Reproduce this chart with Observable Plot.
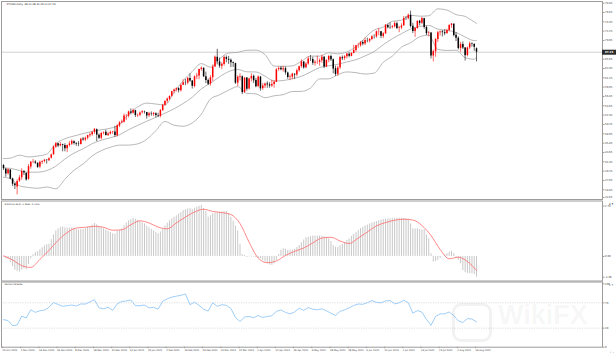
<!DOCTYPE html>
<html><head><meta charset="utf-8">
<script src="https://cdn.jsdelivr.net/npm/d3@7"></script>
<script src="https://cdn.jsdelivr.net/npm/@observablehq/plot@0.6"></script>
<style>
body{margin:0;background:#fff;}
#wrap{position:relative;width:616px;height:355px;overflow:hidden;background:#fff;font-family:"DejaVu Sans",sans-serif;}
#wrap svg{position:absolute;left:0;}
#wm{position:absolute;left:452px;top:300px;width:146px;height:42px;pointer-events:none;overflow:hidden;}
#wm .logo{position:absolute;left:0;top:3px;width:34px;height:33px;border:3px solid rgba(0,0,0,0.05);border-radius:9px;}
#wm .txt{position:absolute;left:46px;top:0px;font:bold 27px "Liberation Sans",sans-serif;color:rgba(0,0,0,0.05);}
</style></head><body><div id="wrap"></div>
<script>
const titleText = "XTIUSD,Daily  68.10 68.30 65.01 67.29";
const macdTitle = "MACD(12,26,9) -1.0602 -0.7214";
const rsiTitle = "RSI(14) 39.6185";

const open = [
40.60,39.70,38.60,39.50,37.40,36.20,35.50,36.90,37.70,39.10,
38.70,37.30,40.20,41.40,41.40,41.10,40.20,41.30,41.50,41.80,
41.70,42.30,43.10,44.90,45.70,45.20,45.50,45.30,44.50,45.30,
45.60,46.20,45.80,45.60,45.50,46.80,46.60,47.00,47.60,47.80,
48.40,49.00,47.70,47.00,48.10,48.40,47.60,48.00,48.40,48.50,
47.60,49.90,50.60,50.80,52.20,52.20,53.20,52.90,53.50,52.30,
52.40,53.00,53.20,53.10,52.30,52.70,52.60,52.80,52.30,52.20,
53.50,54.80,55.70,56.20,56.90,58.00,58.40,58.70,58.20,59.50,
60.10,60.00,61.10,60.50,59.20,61.50,61.70,63.20,63.50,61.50,
60.60,59.80,61.30,63.80,66.10,65.00,64.00,64.40,66.00,65.60,
65.40,64.80,64.60,60.00,61.40,61.50,57.80,61.20,58.60,61.00,
61.60,60.60,59.20,61.40,58.70,59.30,59.80,59.60,59.30,59.70,
60.20,63.20,63.50,63.10,63.40,62.40,61.30,61.40,62.10,61.90,
62.90,63.90,65.00,63.60,64.50,65.70,65.60,64.70,64.90,64.90,
65.30,66.10,63.80,65.40,66.30,65.50,63.40,62.10,63.60,66.00,
65.80,66.20,66.80,66.30,67.00,67.70,68.80,68.80,69.60,69.20,
70.00,69.90,70.30,70.90,70.90,72.10,72.10,71.00,71.60,73.60,
73.10,73.10,73.30,74.00,72.90,73.00,73.50,75.20,75.20,76.00,
73.40,72.20,72.90,74.60,74.10,75.20,73.10,71.70,71.80,66.40,
67.40,70.30,71.90,72.10,71.90,71.70,72.40,73.60,73.90,71.30,
70.60,68.20,69.10,68.30,66.50,68.30,69.20,69.10,68.10];
const high = [
40.75,39.90,39.80,39.60,37.60,36.40,37.20,38.20,39.80,39.40,
38.90,40.80,41.50,42.00,41.70,41.20,41.60,41.70,42.00,42.00,
42.40,43.30,45.20,46.00,45.80,46.00,45.60,45.70,45.40,46.20,
46.60,46.40,45.90,46.20,47.00,47.20,47.30,47.70,48.20,48.60,
49.30,49.20,48.00,48.40,48.50,48.90,48.40,48.70,48.60,49.80,
50.20,50.90,51.30,52.70,52.60,53.40,53.90,53.90,53.60,52.70,
53.20,53.50,53.40,53.10,53.10,53.20,53.10,53.00,52.90,53.80,
55.00,55.90,56.50,57.00,58.10,58.60,58.90,58.90,59.80,60.80,
60.90,61.30,62.20,60.60,61.70,62.30,63.30,63.80,63.60,62.60,
61.00,61.80,64.30,66.40,67.98,65.90,64.80,66.40,66.40,66.30,
65.70,65.00,64.70,61.70,62.20,61.70,61.30,61.30,61.20,62.20,
61.90,61.10,61.70,61.60,59.90,60.00,60.30,60.10,60.70,60.60,
63.40,63.80,63.90,64.00,63.80,62.60,61.90,62.30,62.20,63.30,
64.00,65.50,65.00,64.80,66.20,66.50,66.10,65.30,66.40,65.70,
66.60,66.30,65.50,66.50,66.60,65.70,64.00,64.00,66.30,66.40,
66.50,67.00,67.20,67.20,68.90,68.90,69.40,69.80,70.00,70.60,
70.60,70.50,71.20,71.40,72.30,72.90,72.20,71.90,73.80,73.90,
74.20,73.60,74.40,74.40,73.40,74.00,75.70,75.70,76.30,76.98,
74.10,73.00,74.70,74.80,75.50,75.30,73.40,72.20,71.90,67.80,
70.50,72.20,72.30,72.40,72.60,72.70,73.80,74.00,74.00,71.90,
70.90,69.60,69.70,68.40,68.50,69.70,69.50,69.30,68.30];
const low = [
39.40,37.80,38.30,37.20,35.60,34.90,33.64,36.60,37.10,38.20,
36.90,37.10,39.70,41.00,40.80,39.90,39.80,40.80,41.20,40.90,
41.50,42.10,43.00,44.60,44.80,45.00,43.80,43.80,43.60,44.90,
45.30,45.40,45.10,45.00,45.40,46.30,46.20,46.60,47.20,47.50,
47.90,46.20,46.70,46.60,47.80,47.50,47.50,47.80,47.90,47.20,
47.30,49.50,50.40,50.60,51.20,51.80,52.50,52.70,51.90,51.90,
52.10,52.70,52.70,51.50,51.90,52.20,52.10,51.80,51.90,51.80,
53.40,54.50,55.20,55.90,56.70,57.50,57.90,57.70,57.90,59.40,
59.40,59.60,60.20,58.60,58.90,60.80,60.80,62.80,61.30,59.90,
59.40,59.30,60.40,63.70,64.30,63.50,63.20,64.00,64.80,64.40,
63.70,63.70,59.70,59.20,60.50,57.30,57.60,58.10,58.40,60.30,
59.90,58.90,58.90,58.10,58.30,58.70,58.80,58.80,59.00,58.80,
60.10,62.80,62.90,62.60,61.90,60.90,60.60,60.80,60.90,61.50,
62.60,63.50,63.30,63.40,64.20,65.10,64.20,64.00,64.40,64.00,
64.70,63.40,63.70,64.80,65.10,62.20,61.60,61.60,63.20,65.30,
65.30,65.70,66.00,66.20,66.90,67.30,68.20,68.50,68.80,68.90,
69.50,69.50,70.00,70.40,70.60,71.20,70.50,70.50,71.50,72.80,
72.70,72.80,73.00,72.60,71.90,72.60,73.40,74.80,74.90,73.00,
71.70,70.80,72.70,73.50,73.80,72.70,71.20,70.90,65.70,65.01,
66.10,69.60,71.10,70.90,71.20,71.50,72.10,72.90,70.90,69.80,
67.80,67.30,67.90,65.20,66.20,67.90,68.50,67.50,65.01];
const close = [
39.85,38.56,39.57,37.39,36.17,35.79,36.81,37.66,39.15,38.79,
37.14,40.29,41.36,41.45,41.12,40.13,41.34,41.43,41.82,41.74,
42.15,43.06,44.91,45.71,45.20,45.53,45.34,44.55,45.28,45.64,
46.26,45.76,45.60,45.52,46.78,46.57,46.99,47.62,47.82,48.36,
49.10,47.74,47.02,48.12,48.23,47.62,48.00,48.40,48.52,47.62,
49.93,50.63,50.83,52.24,52.25,53.21,52.91,53.57,52.36,52.40,
52.98,53.24,53.13,52.27,52.77,52.61,52.85,52.34,52.20,53.55,
54.76,55.69,56.23,56.85,57.97,58.36,58.68,58.24,59.47,60.10,
60.05,61.14,60.52,59.24,61.49,61.67,63.22,63.53,61.50,60.64,
59.75,61.28,63.83,66.09,65.05,64.01,64.44,66.02,65.61,65.39,
64.80,64.60,60.00,61.42,61.55,57.76,61.18,58.56,60.97,61.56,
60.55,59.16,61.45,58.65,59.33,59.77,59.60,59.32,59.70,60.18,
63.15,63.46,63.13,63.38,62.44,61.35,61.43,62.14,61.91,62.94,
63.86,65.01,63.58,64.49,65.69,65.63,64.71,64.90,64.92,65.28,
66.08,63.82,65.37,66.27,65.49,63.36,62.05,63.58,66.05,65.76,
66.21,66.85,66.32,67.00,67.72,68.83,68.81,69.62,69.23,70.05,
69.96,70.29,70.91,70.88,72.12,72.15,71.04,71.64,73.66,73.06,
73.08,73.30,74.05,72.91,72.98,73.47,75.23,75.16,76.00,73.37,
72.20,72.94,74.56,74.10,75.25,73.13,71.65,71.81,66.42,67.42,
70.30,71.91,72.07,71.91,71.65,72.39,73.62,73.95,71.26,70.56,
68.15,69.09,68.28,66.48,68.29,69.25,69.09,68.44,67.29];

// Bollinger Bands (20,2), read at these bar numbers
const bbBar = [0,3,7,11,15,19,23,27,31,35,39,43,47,51,55,59,63,67,71,75,79,83,87,91,95,99,103,107,111,115,119,123,127,131,135,139,143,147,151,155,159,163,167,171,175,179,183,187,191,195,199,203,207,208];
const bbUpper = [42.2,42.3,43.0,42.6,42.8,43.26,45.72,46.89,47.53,48.09,48.61,49.00,49.36,50.25,52.63,54.40,55.28,55.07,54.87,57.81,60.59,62.74,64.61,63.76,65.72,67.10,67.26,67.75,67.79,66.72,64.01,63.96,64.06,65.17,66.38,66.35,67.17,66.91,67.36,68.59,70.70,72.53,73.23,74.58,74.84,76.00,75.79,75.88,77.52,77.23,76.16,75.73,74.43,74.10];
const bbMiddle = [40.0,39.9,39.4,39.0,39.0,39.38,40.40,42.11,43.49,44.51,45.73,46.54,47.12,47.81,49.01,50.04,51.02,51.93,52.91,53.95,55.21,56.68,58.65,60.00,61.48,62.72,63.22,62.67,62.63,61.64,60.51,60.62,61.04,61.61,62.62,63.67,64.09,64.45,65.00,65.53,66.42,67.45,69.07,70.48,71.66,72.76,73.35,73.60,72.74,72.47,71.96,70.87,70.03,70.07];
const bbLower = [37.8,37.5,35.8,35.4,35.2,35.50,35.08,37.33,39.45,40.93,42.85,44.08,44.88,45.37,45.39,45.68,46.76,48.79,50.95,50.09,49.83,50.62,52.69,56.24,57.24,58.34,59.18,57.59,57.47,56.56,57.01,57.28,58.02,58.05,58.86,60.99,61.01,61.99,62.64,62.47,62.14,62.37,64.91,66.38,68.48,69.52,70.91,71.32,67.96,67.71,67.76,66.01,65.63,66.00];

// MACD main (histogram), one per bar
const macdMain = [
-0.02,-0.12,-0.15,-0.32,-0.52,-0.70,-0.76,-0.80,-0.70,-0.62,
-0.68,-0.42,-0.12,0.10,0.20,0.24,0.34,0.44,0.54,0.60,
0.62,0.86,1.10,1.30,1.40,1.48,1.50,1.46,1.44,1.44,
1.46,1.44,1.38,1.34,1.38,1.38,1.42,1.48,1.52,1.60,
1.68,1.62,1.52,1.48,1.42,1.34,1.28,1.22,1.16,1.14,
1.28,1.30,1.40,1.58,1.70,1.82,1.88,1.94,1.90,1.84,
1.78,1.72,1.66,1.54,1.46,1.38,1.30,1.22,1.16,1.25,
1.40,1.56,1.70,1.82,1.92,2.00,2.08,2.16,2.24,2.34,
2.38,2.42,2.44,2.40,2.46,2.52,2.56,2.60,2.45,2.30,
2.01,2.08,2.18,2.22,2.25,2.26,2.28,2.29,2.30,2.20,
2.00,1.80,1.55,1.30,0.62,0.10,0.05,-0.05,-0.02,-0.03,
-0.03,-0.06,-0.09,-0.12,-0.20,-0.28,-0.37,-0.44,-0.46,-0.38,
-0.20,0.10,0.32,0.39,0.36,0.31,0.31,0.33,0.36,0.45,
0.56,0.70,0.84,0.95,0.98,1.01,1.04,1.04,1.04,1.04,
1.03,1.00,0.98,0.90,0.76,0.55,0.47,0.47,0.55,0.62,
0.72,0.82,0.90,1.02,1.12,1.22,1.32,1.42,1.49,1.55,
1.60,1.66,1.70,1.74,1.78,1.82,1.86,1.89,1.90,1.91,
1.92,1.93,1.94,1.95,1.95,1.95,1.94,1.93,1.90,1.66,
1.41,1.40,1.41,1.38,1.35,1.36,1.10,0.90,0.14,-0.29,
-0.26,-0.20,-0.09,0.00,0.08,0.14,0.22,0.26,0.14,-0.05,
-0.20,-0.37,-0.72,-0.82,-0.88,-0.88,-0.88,-0.93,-1.06];
// MACD signal, read every 4th bar
const macdSignal = [0.03,-0.18,-0.47,-0.56,-0.15,0.31,0.82,1.22,1.45,1.49,1.54,1.49,1.34,1.36,1.62,1.82,1.71,1.50,1.41,1.71,2.01,2.27,2.41,2.30,2.24,2.14,1.68,0.73,-0.08,-0.32,-0.23,0.05,0.26,0.43,0.69,0.94,0.98,0.79,0.66,0.94,1.25,1.56,1.73,1.85,1.90,1.86,1.58,1.07,0.36,-0.12,-0.04,-0.26,-0.71];
// RSI(14), read every 2nd bar
const rsi14 = [43.5,42,34,35,49,46,59,55,57.5,58.5,63,70.5,67.4,64.5,65.5,66.5,65,68.2,68,71.5,75,62,60.6,63,58,68.5,72,73,74.5,65.5,65.5,66.5,62,63,60,72.5,76.3,79,80.5,81.8,84,67,71,66,60,57,70,64.5,67,66,61,47,40.5,47.5,48.5,46.5,50,46.9,48.4,49.6,56.5,58.7,55,52.5,55.5,61.5,58,62.5,60,59,60.5,57.5,53.5,50,56.5,59,62,65.8,68.2,67.6,70.3,73.4,70.8,70,72.9,73.6,68.4,70,74.2,70,53.7,57.7,55.3,43.8,34.5,48.6,52.5,52.7,55.5,50,41.5,39,45,44.5,40];

const priceTicks = [78.85,76.65,74.45,72.25,70.05,65.65,63.45,61.25,59.05,56.85,54.65,52.45,50.25,48.05,45.85,43.65,41.45,39.25,37.05,34.85];
const priceBottomTick = [32.65];
const macdTopTick = [2.74];
const macdTicks = [0,-1.06];
const rsiTicks = [100,70,30,0];
const dateTickBar = [0,8,16,24,32,40,48,56,64,72,80,88,96,104,112,120,128,136,144,152,160,168,176,184,192,200,208];
const dateTickLabel = ["23 Oct 2020","4 Nov 2020","16 Nov 2020","26 Nov 2020","8 Dec 2020","18 Dec 2020","31 Dec 2020","13 Jan 2021","25 Jan 2021","4 Feb 2021","16 Feb 2021","26 Feb 2021","10 Mar 2021","22 Mar 2021","1 Apr 2021","14 Apr 2021","26 Apr 2021","6 May 2021","18 May 2021","28 May 2021","9 Jun 2021","21 Jun 2021","1 Jul 2021","13 Jul 2021","23 Jul 2021","4 Aug 2021","16 Aug 2021"];

// ---------- build ----------
const bars = close.map((c, i) => ({i, o: open[i], h: high[i], l: low[i], c, up: c >= open[i]}));
const bb = bbBar.map((i, k) => ({i, u: bbUpper[k], m: bbMiddle[k], l: bbLower[k]}));
const macdBars = macdMain.map((v, i) => ({i, v}));
const sig = macdSignal.map((v, k) => ({i: k * 4, v}));
const rsiPts = rsi14.map((v, k) => ({i: k * 2, v}));
const lastClose = close[close.length - 1];
const dateMap = new Map(dateTickBar.map((b, k) => [b, dateTickLabel[k]]));

const X = {domain: [0, 208], range: [3, 476], axis: null};
const FONT = "DejaVu Sans";
const frameColor = "#9c9c9c";
const labelColor = "#3a3a3a";
const AX = 2.6;
const axisOpts = {anchor: "right", tickSize: 1.5, tickPadding: 1, fontSize: AX, stroke: frameColor, fill: labelColor};
const wrap = document.getElementById("wrap");

const main = Plot.plot({
  width: 616, height: 200,
  marginLeft: 1, marginRight: 14, marginTop: 1, marginBottom: 1,
  x: X,
  y: {domain: [32.65, 78.85], range: [198.6, 2.7], axis: null},
  style: {fontFamily: FONT, background: "transparent", overflow: "visible"},
  marks: [
    Plot.ruleY([lastClose], {stroke: "#c6c6c6", strokeWidth: 0.8}),
    Plot.line(bb, {x: "i", y: "u", stroke: "#a6a6a6", strokeWidth: 0.8, curve: "monotone-x"}),
    Plot.line(bb, {x: "i", y: "m", stroke: "#a6a6a6", strokeWidth: 0.8, curve: "monotone-x"}),
    Plot.line(bb, {x: "i", y: "l", stroke: "#a6a6a6", strokeWidth: 0.8, curve: "monotone-x"}),
    Plot.ruleX(bars, {x: "i", y1: "l", y2: "h", stroke: d => d.up ? "#ff0000" : "#000000", strokeWidth: 0.6}),
    Plot.ruleX(bars, {x: "i", y1: "o", y2: "c", stroke: d => d.up ? "#ff0000" : "#000000", strokeWidth: 1.5}),
    Plot.frame({stroke: frameColor, strokeWidth: 1}),
    Plot.axisY(priceTicks, {...axisOpts, tickFormat: d => d.toFixed(2)}),
    Plot.axisY(priceBottomTick, {...axisOpts, dy: -1.6, tickFormat: d => d.toFixed(2)}),
    Plot.ruleY([lastClose], {stroke: "#2b2b2b", strokeWidth: 5, insetLeft: 601, insetRight: -14}),
    Plot.text([lastClose], {y: d => d, text: d => d.toFixed(2), frameAnchor: "right", textAnchor: "start", dx: 2.5, fill: "white", fontSize: AX, fontWeight: "bold"}),
    Plot.text([titleText], {frameAnchor: "top-left", dx: 5, dy: 1.8, lineAnchor: "top", textAnchor: "start", fontSize: 2.5, fill: "#222"})
  ]
});
main.style.top = "0px";
wrap.appendChild(main);

const macd = Plot.plot({
  width: 616, height: 81,
  marginLeft: 1, marginRight: 14, marginTop: 0.5, marginBottom: 0.5,
  x: X,
  y: {domain: [-1.06, 2.74], range: [76.7, 2.3], axis: null},
  style: {fontFamily: FONT, background: "transparent", overflow: "visible"},
  marks: [
    Plot.ruleX(macdBars, {x: "i", y1: 0, y2: "v", stroke: "#c2c2c2", strokeWidth: 0.9}),
    Plot.line(sig, {x: "i", y: "v", stroke: "#ff6a6a", strokeWidth: 0.8, curve: "monotone-x"}),
    Plot.frame({stroke: frameColor, strokeWidth: 1}),
    Plot.axisY(macdTopTick, {...axisOpts, dy: 3.2, tickFormat: d => d.toFixed(2)}),
    Plot.axisY(macdTicks, {...axisOpts, tickFormat: d => d.toFixed(2)}),
    Plot.text([macdTitle], {frameAnchor: "top-left", dx: 3, dy: 2.5, lineAnchor: "top", textAnchor: "start", fontSize: 2.2, fill: "#222"})
  ]
});
macd.style.top = "200px";
wrap.appendChild(macd);

const rsi = Plot.plot({
  width: 616, height: 74,
  marginLeft: 1, marginRight: 14, marginTop: 0.5, marginBottom: 8.3,
  x: X,
  y: {domain: [0, 100], range: [65.7, 2.3], axis: null},
  style: {fontFamily: FONT, background: "transparent", overflow: "visible"},
  marks: [
    Plot.ruleY([70, 30], {stroke: "#cfcfcf", strokeWidth: 0.7, strokeDasharray: "1.2,1.2"}),
    Plot.line(rsiPts, {x: "i", y: "v", stroke: "#86c2f6", strokeWidth: 0.8}),
    Plot.frame({stroke: frameColor, strokeWidth: 1}),
    Plot.axisY(rsiTicks, axisOpts),
    Plot.axisX(dateTickBar, {anchor: "bottom", tickSize: 1.5, tickPadding: 1, fontSize: 2.4, textAnchor: "start", dx: -1, stroke: frameColor, fill: labelColor, tickFormat: d => dateMap.get(d)}),
    Plot.text([rsiTitle], {frameAnchor: "top-left", dx: 3, dy: 1.5, lineAnchor: "top", textAnchor: "start", fontSize: 2.2, fill: "#222"})
  ]
});
rsi.style.top = "281px";
wrap.appendChild(rsi);

const wm = document.createElement("div");
wm.id = "wm";
wm.innerHTML = '<div class="logo"></div><div class="txt">WikiFX</div>';
wrap.appendChild(wm);
</script></body></html>
